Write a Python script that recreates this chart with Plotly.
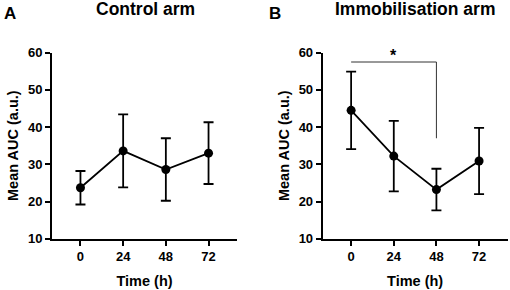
import plotly.graph_objects as go

time_h = [0, 24, 48, 72]
time_labels = ["0", "24", "48", "72"]
control_mean = [23.7, 33.6, 28.6, 33.0]
control_sd = [4.5, 9.8, 8.4, 8.3]
immob_mean = [44.5, 32.2, 23.2, 30.9]
immob_sd = [10.4, 9.5, 5.6, 8.9]
y_ticks = [10, 20, 30, 40, 50, 60]

sig_x = [0, 48]
sig_y = 57.5
sig_drop = 37.0
sig_label = "*"

FONT = "Liberation Sans, Arial, sans-serif"

fig = go.Figure()

def add_series(xa, ya, mean, sd):
    fig.add_trace(go.Scatter(
        x=time_h, y=mean, xaxis=xa, yaxis=ya, mode="lines+markers",
        line=dict(color="black", width=1.8),
        marker=dict(color="black", size=9),
        error_y=dict(type="data", array=sd, visible=True, color="black",
                     thickness=1.8, width=5),
        showlegend=False, cliponaxis=False,
    ))

add_series("x", "y", control_mean, control_sd)
add_series("x2", "y2", immob_mean, immob_sd)

# significance bracket
fig.add_trace(go.Scatter(
    x=[sig_x[0], sig_x[1], sig_x[1]], y=[sig_y, sig_y, sig_drop],
    xaxis="x2", yaxis="y2", mode="lines",
    line=dict(color="#333333", width=1), showlegend=False, hoverinfo="skip",
    cliponaxis=False,
))

H, W = 290, 510
ytop, ybot = 52.7, 238.7
ydom = [1 - ybot / H, 1 - ytop / H]

def xaxis(dom, anchor):
    return dict(
        domain=dom, anchor=anchor, range=[-16, 88], automargin=False,
        tickmode="array", tickvals=time_h, ticktext=time_labels,
        showline=True, linecolor="black", linewidth=2, mirror=False,
        ticks="outside", ticklen=5, tickwidth=2, tickcolor="black",
        showgrid=False, zeroline=False,
        tickfont=dict(size=13, color="black", family=FONT, weight="bold"),
        title=dict(text="Time (h)", standoff=13,
                   font=dict(size=14.5, color="black", family=FONT, weight="bold")),
    )

def yaxis(anchor):
    return dict(
        domain=ydom, anchor=anchor, range=[10, 60], automargin=False,
        tickmode="array", tickvals=y_ticks,
        showline=True, linecolor="black", linewidth=2,
        ticks="outside", ticklen=5, tickwidth=2, tickcolor="black",
        showgrid=False, zeroline=False,
        tickfont=dict(size=13, color="black", family=FONT, weight="bold"),
        title=dict(text="Mean AUC (a.u.)", standoff=6,
                   font=dict(size=14.5, color="black", family=FONT, weight="bold")),
    )

fig.update_layout(
    width=W, height=H,
    margin=dict(l=0, r=0, t=0, b=0, autoexpand=False),
    paper_bgcolor="white", plot_bgcolor="white",
    font=dict(family=FONT, color="black"),
    xaxis=xaxis([52 / W, 237 / W], "y"),
    yaxis=yaxis("x"),
    xaxis2=xaxis([322.7 / W, 507.5 / W], "y2"),
    yaxis2=yaxis("x2"),
    annotations=[
        dict(text="Control arm", x=145 / W, y=1 - 9 / H, xref="paper", yref="paper",
             showarrow=False, xanchor="center", yanchor="middle",
             font=dict(size=17.5, family=FONT, weight="bold", color="black")),
        dict(text="Immobilisation arm", x=415 / W, y=1 - 9 / H, xref="paper", yref="paper",
             showarrow=False, xanchor="center", yanchor="middle",
             font=dict(size=17.5, family=FONT, weight="bold", color="black")),
        dict(text="A", x=10 / W, y=1 - 14 / H, xref="paper", yref="paper",
             showarrow=False, xanchor="center", yanchor="middle",
             font=dict(size=17, family=FONT, weight="bold", color="black")),
        dict(text="B", x=275 / W, y=1 - 14 / H, xref="paper", yref="paper",
             showarrow=False, xanchor="center", yanchor="middle",
             font=dict(size=17, family=FONT, weight="bold", color="black")),
        dict(text=sig_label, x=(sig_x[0] + sig_x[1]) / 2, y=sig_y, xref="x2", yref="y2",
             showarrow=False, xanchor="center", yanchor="bottom", yshift=-4,
             font=dict(size=16, family=FONT, weight="bold", color="black")),
    ],
)

fig.write_html("out.html", config={"displayModeBar": False},
               post_script="document.body.style.margin='0';")
